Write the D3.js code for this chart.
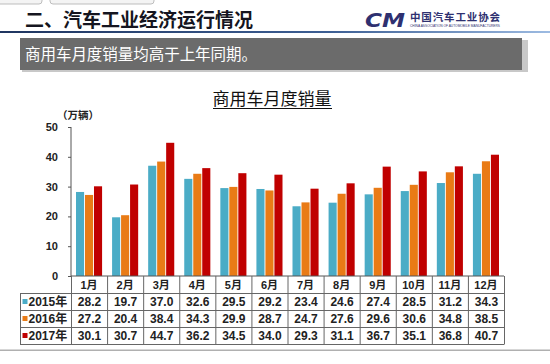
<!DOCTYPE html>
<html><head><meta charset="utf-8">
<script src="https://cdn.jsdelivr.net/npm/d3@7"></script>
<style>
html,body{margin:0;padding:0;background:#fff;}
svg{display:block;}
</style></head>
<body>
<svg id="c" width="550" height="364"></svg>
<script>
const months = ["1月","2月","3月","4月","5月","6月","7月","8月","9月","10月","11月","12月"];
const seriesNames = ["2015年","2016年","2017年"];
const s2015 = [28.2,19.7,37.0,32.6,29.5,29.2,23.4,24.6,27.4,28.5,31.2,34.3];
const s2016 = [27.2,20.4,38.4,34.3,29.9,28.7,24.7,27.6,29.6,30.6,34.8,38.5];
const s2017 = [30.1,30.7,44.7,36.2,34.5,34.0,29.3,31.1,36.7,35.1,36.8,40.7];
const yTicks = [0,10,20,30,40,50];
const colors = ["#4BACC6","#E97B16","#C00000"];
const series = [s2015,s2016,s2017];

const svg = d3.select("#c");
const CJK = "'Liberation Sans','Noto Sans CJK SC',Arial,sans-serif";
const CJKONLY = "'Noto Sans CJK SC',sans-serif";

// top tabs
svg.append("rect").attr("x",-4).attr("y",-6).attr("width",46).attr("height",10).attr("rx",3)
  .attr("fill","#f4f4f4").attr("stroke","#bdbdbd");
svg.append("rect").attr("x",50).attr("y",-6).attr("width",104).attr("height",10).attr("rx",3)
  .attr("fill","#f4f4f4").attr("stroke","#bdbdbd");

// title
svg.append("text").attr("x",25).attr("y",27).text("二、汽车工业经济运行情况")
  .attr("font-family",CJK).attr("font-weight","bold").attr("font-size",19).attr("fill","#151520");

// logo
svg.append("text").attr("x",365).attr("y",27).text("CM")
  .attr("font-family","'DejaVu Sans',sans-serif").attr("font-weight","bold").attr("font-style","italic")
  .attr("font-size",19).attr("fill","#2e3070").attr("textLength",40).attr("lengthAdjust","spacingAndGlyphs");
svg.append("text").attr("x",410).attr("y",21).text("中国汽车工业协会")
  .attr("font-family",CJK).attr("font-weight","bold").attr("font-size",10.5).attr("fill","#2e3070")
  .attr("textLength",90).attr("lengthAdjust","spacing");
svg.append("text").attr("x",410).attr("y",27).text("CHINA ASSOCIATION OF AUTOMOBILE MANUFACTURERS")
  .attr("font-family","'Liberation Sans',sans-serif").attr("font-size",3.5).attr("fill","#2e3070")
  .attr("textLength",90).attr("lengthAdjust","spacingAndGlyphs");

// blue rule
const defs = svg.append("defs");
const g1 = defs.append("linearGradient").attr("id","rule").attr("x1","0").attr("x2","1");
g1.append("stop").attr("offset","0").attr("stop-color","#1f3560");
g1.append("stop").attr("offset","0.6").attr("stop-color","#3d5f94");
g1.append("stop").attr("offset","1").attr("stop-color","#9dbbe2");
svg.append("rect").attr("x",0).attr("y",31).attr("width",550).attr("height",2).attr("fill","url(#rule)");

// banner
svg.append("rect").attr("x",22).attr("y",40).attr("width",506).attr("height",32).attr("fill","#c8c8c8");
svg.append("rect").attr("x",20).attr("y",38).attr("width",502).attr("height",32).attr("fill","#6b6b6b");
svg.append("text").attr("x",25).attr("y",60).text("商用车月度销量均高于上年同期。")
  .attr("font-family",CJK).attr("font-size",15.5).attr("fill","#fff")
  .attr("textLength",232).attr("lengthAdjust","spacing");

// chart title
svg.append("text").attr("x",272).attr("y",105).attr("text-anchor","middle").text("商用车月度销量")
  .attr("font-family",CJK).attr("font-size",17).attr("fill","#111");
svg.append("line").attr("x1",213).attr("x2",332).attr("y1",108.5).attr("y2",108.5).attr("stroke","#111").attr("stroke-width",1);

svg.append("text").attr("x",57).attr("y",119).text("（万辆）")
  .attr("font-family",CJKONLY).attr("font-weight","bold").attr("font-size",10.5).attr("fill","#222");

// scales
const y = d3.scaleLinear().domain([0,50]).range([276,127]);
const x = d3.scaleBand().domain(months).range([71,504]).padding(0);
const xs = d3.scaleBand().domain([0,1,2]).range([5, x.bandwidth()-5]).paddingInner(0.1);

// y axis
const yAxis = d3.axisLeft(y).tickValues(yTicks).tickSize(3).tickFormat(d3.format("d"));
const ga = svg.append("g").attr("transform","translate(71,0)").call(yAxis);
ga.select(".domain").attr("stroke","#555").attr("d","M0,127V276");
ga.selectAll(".tick line").attr("stroke","#555");
ga.selectAll(".tick text").attr("x",-13).attr("font-family","'Liberation Sans',Arial,sans-serif")
  .attr("font-weight","bold").attr("font-size",11).attr("fill","#222");

// bars
series.forEach((s,i)=>{
  svg.append("g").selectAll("rect").data(s).join("rect")
    .attr("x",(d,j)=>x(months[j])+xs(i))
    .attr("width",xs.bandwidth())
    .attr("y",d=>y(d))
    .attr("height",d=>y(0)-y(d))
    .attr("fill",colors[i]);
});

// table
const rowTop = [276,293,310,327,344];
const tbl = svg.append("g");
const lineC = "#666";
tbl.append("line").attr("x1",71).attr("x2",504).attr("y1",276).attr("y2",276).attr("stroke","#555");
[293,310,327,344].forEach(v=>{
  tbl.append("line").attr("x1",20).attr("x2",504).attr("y1",v+0.5).attr("y2",v+0.5).attr("stroke",lineC);
});
tbl.append("line").attr("x1",20.5).attr("x2",20.5).attr("y1",293).attr("y2",344.5).attr("stroke",lineC);
months.forEach(m=>{
  tbl.append("line").attr("x1",x(m)+0.5).attr("x2",x(m)+0.5).attr("y1",276).attr("y2",344.5).attr("stroke",lineC);
});
tbl.append("line").attr("x1",504.5).attr("x2",504.5).attr("y1",276).attr("y2",344.5).attr("stroke",lineC);

tbl.selectAll("text.m").data(months).join("text").attr("class","m")
  .attr("x",d=>x(d)+x.bandwidth()/2).attr("y",289).attr("text-anchor","middle").text(d=>d)
  .attr("font-family",CJK).attr("font-weight","bold").attr("font-size",11).attr("fill","#222");

series.forEach((s,i)=>{
  const cy = (rowTop[i+1]+rowTop[i+2])/2;
  tbl.append("g").selectAll("text").data(s).join("text")
    .attr("x",(d,j)=>x(months[j])+x.bandwidth()/2+0.5).attr("y",cy+4.5).attr("text-anchor","middle")
    .text(d=>d.toFixed(1))
    .attr("font-family","'Liberation Sans',Arial,sans-serif").attr("font-weight","bold").attr("font-size",12).attr("fill","#222");
  tbl.append("rect").attr("x",22.5).attr("y",cy-2.5).attr("width",5).attr("height",5).attr("fill",colors[i]);
  tbl.append("text").attr("x",28.5).attr("y",cy+4.5).text(seriesNames[i])
    .attr("font-family",CJK).attr("font-weight","bold").attr("font-size",12).attr("fill","#222");
});

// bottom rule
svg.append("rect").attr("x",0).attr("y",349.5).attr("width",550).attr("height",1.5).attr("fill","#b0b0b0");
</script>
</body></html>
